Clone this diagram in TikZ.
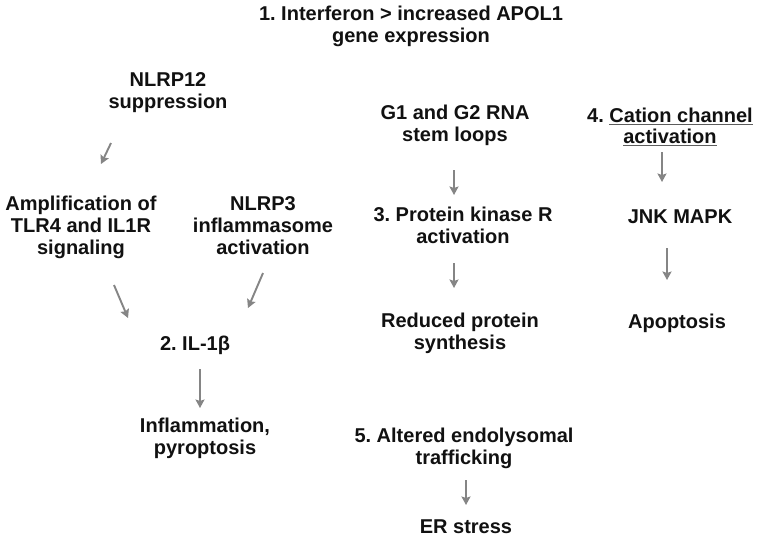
\documentclass[tikz,border=0pt]{standalone}
\usepackage{fontspec}
\setmainfont{Liberation Sans}
\usetikzlibrary{arrows.meta}
\definecolor{arrowgray}{HTML}{858585}
\definecolor{txt}{HTML}{111111}
\newcommand\myul[1]{{\setbox0\hbox{#1}\rlap{\color{arrowgray!70!black}\rule[-2.8pt]{\wd0}{1.3pt}}\box0}}
\frenchspacing
\begin{document}
\begin{tikzpicture}[x=1pt,y=-1pt,
  lbl/.style={align=center,anchor=base,inner sep=0pt,text=txt,
    font=\fontsize{20}{22}\selectfont\bfseries\frenchspacing},
  arr/.style={draw=arrowgray,line width=1.9pt,
    -{Stealth[length=8.5pt,width=9pt,inset=1.5pt]}}]
\useasboundingbox[fill=white] (0,0) rectangle (760,541);

% anchor=base is the baseline of the last line
\node[lbl] (ifn) at (411,42) {1. Interferon > increased APOL1\\gene expression};
\node[lbl] (nlrp12) at (168,108) {NLRP12\\suppression};
\node[lbl] (amp) at (81,254) {Amplification of\\TLR4 and IL1R\\signaling};
\node[lbl] (nlrp3) at (263,254) {NLRP3\\inflammasome\\activation};
\node[lbl] (il1b) at (195,350) {2. IL-1β};
\node[lbl] (infl) at (205,454) {Inflammation,\\pyroptosis};
\node[lbl] (g1g2) at (455,141) {G1 and G2 RNA\\stem loops};
\node[lbl] (pkr) at (463,243) {3. Protein kinase R\\activation};
\node[lbl] (red) at (460,349) {Reduced protein\\synthesis};
\node[lbl] (endo) at (464,464) {5. Altered endolysomal\\trafficking};
\node[lbl] (er) at (466,533) {ER stress};
\node[lbl,font=\fontsize{20}{21}\selectfont\bfseries\frenchspacing] (cat) at (670,143) {4. \myul{Cation channel}\\\myul{activation}};
\node[lbl] (jnk) at (680,223) {JNK MAPK};
\node[lbl] (apo) at (677,328) {Apoptosis};

\coordinate (a1s) at (111,143); \coordinate (a1e) at (101,164);
\coordinate (a2s) at (114,285); \coordinate (a2e) at (128,318);
\coordinate (a3s) at (263,273); \coordinate (a3e) at (248,308);
\coordinate (a4s) at (200,369); \coordinate (a4e) at (200,408);
\coordinate (a5s) at (454,170); \coordinate (a5e) at (454,195);
\coordinate (a6s) at (454,263); \coordinate (a6e) at (454,288);
\coordinate (a7s) at (466,480); \coordinate (a7e) at (466,505);
\coordinate (a8s) at (662,152); \coordinate (a8e) at (662,182);
\coordinate (a9s) at (667,248); \coordinate (a9e) at (667,280);

\foreach \i in {1,...,9} \draw[arr] (a\i s) -- (a\i e);
\end{tikzpicture}
\end{document}
